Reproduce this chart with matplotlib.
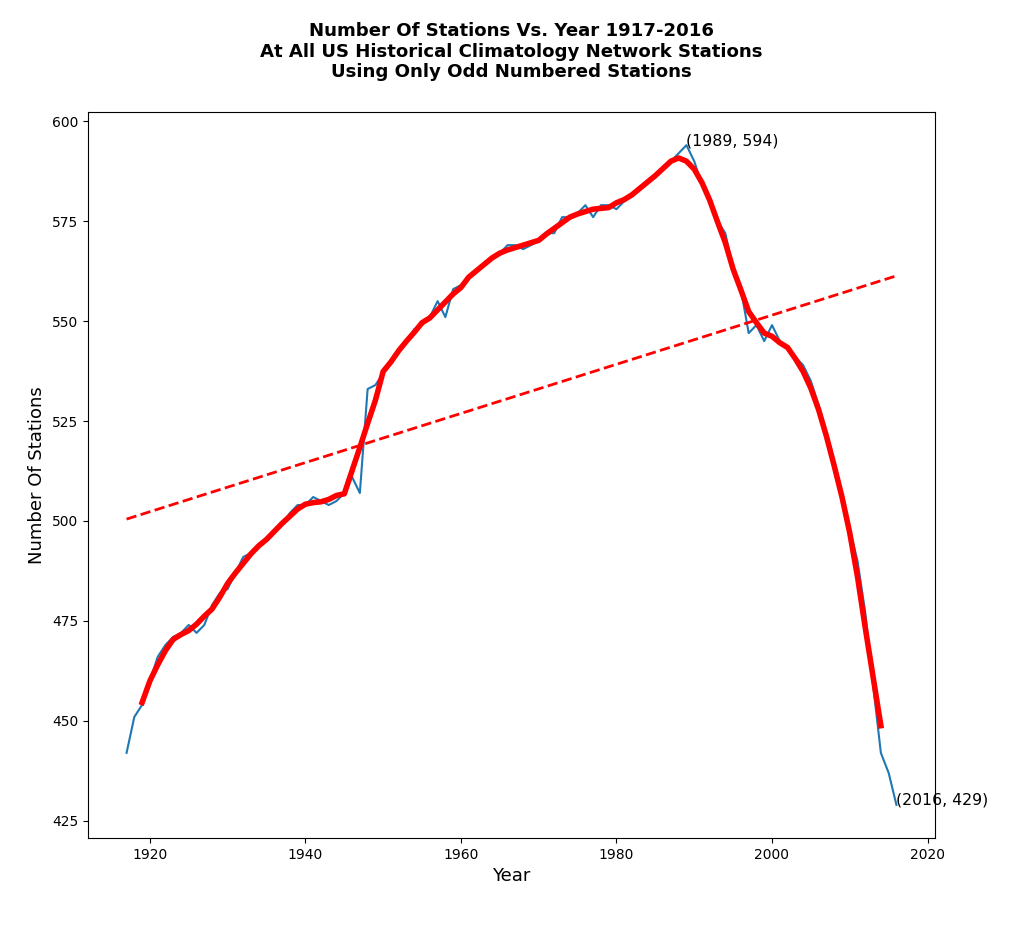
import numpy as np
import pandas as pd
import matplotlib
matplotlib.use("Agg")
import matplotlib.pyplot as plt

# Yearly station counts
years = list(range(1917, 2017))
stations = [
    442, 451, 454, 460, 466, 469, 471, 472, 474, 472,   # 1917-1926
    474, 479, 482, 483, 487, 491, 492, 494, 495, 497,   # 1927-1936
    499, 502, 504, 504, 506, 505, 504, 505, 507, 511,   # 1937-1946
    507, 533, 534, 537, 540, 543, 545, 548, 549, 551,   # 1947-1956
    555, 551, 558, 559, 561, 563, 564, 566, 567, 569,   # 1957-1966
    569, 568, 569, 570, 572, 572, 576, 576, 577, 579,   # 1967-1976
    576, 579, 579, 578, 580, 582, 583, 585, 586, 588,   # 1977-1986
    590, 592, 594, 590, 584, 580, 575, 572, 563, 558,   # 1987-1996
    547, 549, 545, 549, 545, 543, 541, 539, 535, 529,   # 1997-2006
    522, 514, 506, 498, 490, 477, 459, 442, 437, 429,   # 2007-2016
]

df = pd.DataFrame({'year': years, 'stations': stations})

# 5 year centred running mean
df['smooth'] = df['stations'].rolling(5, center=True).mean()

# linear trend
slope, intercept = np.polyfit(df['year'], df['stations'], 1)
df['trend'] = slope * df['year'] + intercept

fig = plt.figure(figsize=(10.24, 9.51), dpi=100)
ax = fig.add_axes([0.086, 0.119, 0.827, 0.763])

ax.plot(df['year'], df['stations'], color='#1f77b4', linewidth=1.5)
ax.plot(df['year'], df['smooth'], color='red', linewidth=4)
ax.plot(df['year'], df['trend'], color='red', linewidth=2, linestyle='--')

# label the peak and the last point
peak = df.loc[df['stations'].idxmax()]
last = df.iloc[-1]
ax.text(peak['year'], peak['stations'], f"({int(peak['year'])}, {int(peak['stations'])})", fontsize=11.3)
ax.text(last['year'], last['stations'], f"({int(last['year'])}, {int(last['stations'])})", fontsize=11.3)

ax.set_yticks([425, 450, 475, 500, 525, 550, 575, 600])
ax.set_xticks([1920, 1940, 1960, 1980, 2000, 2020])

ax.set_xlabel('Year', fontsize=13)
ax.set_ylabel('Number Of Stations', fontsize=13)
ax.set_title('Number Of Stations Vs. Year 1917-2016\n'
             'At All US Historical Climatology Network Stations\n'
             'Using Only Odd Numbered Stations',
             fontsize=13.1, fontweight='bold', pad=25)

fig.savefig('out.png', dpi=100)
